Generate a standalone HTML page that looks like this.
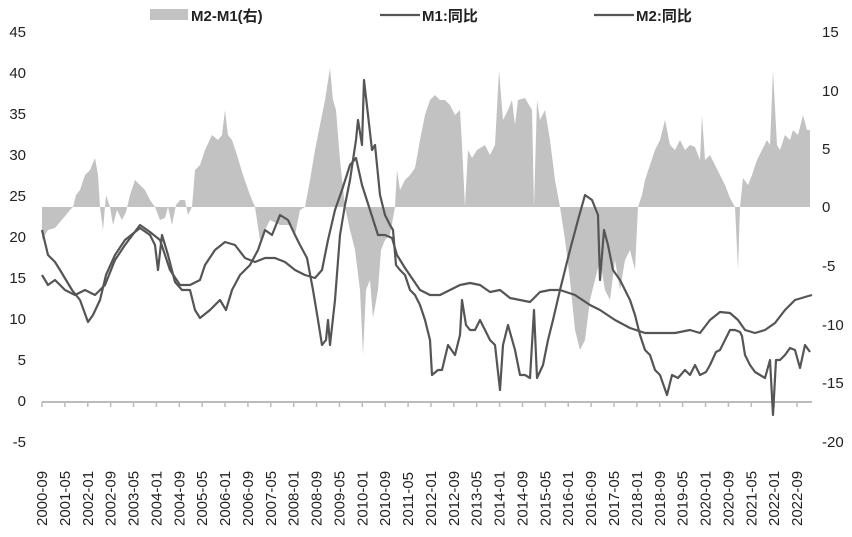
<!DOCTYPE html>
<html><head><meta charset="utf-8"><style>
body{margin:0;background:#fff}
svg text{font-family:"Liberation Sans","Noto Sans CJK SC",sans-serif;fill:#222}
</style></head><body>
<svg width="852" height="532" xmlns="http://www.w3.org/2000/svg">
<polygon fill="#c2c2c2" points="42,207 42,240 48,230 55,228 60,222 66,215 70,210 73,207 76,195 80,190 85,175 90,170 95,158 98,175 100,207 103,230 106,195 110,207 113,225 117,210 122,220 126,212 130,195 135,180 140,185 145,190 150,200 155,207 160,220 165,218 168,207 172,225 176,205 180,200 185,200 188,215 192,207 195,170 200,165 205,150 212,135 218,140 222,135 225,110 228,135 232,140 237,155 243,175 250,195 255,207 260,240 270,220 280,225 290,225 295,235 300,210 305,207 310,180 315,150 320,125 325,100 330,68 333,100 336,110 340,160 345,207 350,230 355,250 360,290 363,355 366,290 370,280 373,318 378,290 381,250 385,240 390,235 395,207 397,170 400,190 405,180 410,175 415,168 420,140 425,115 430,100 435,95 440,100 445,100 450,105 455,115 460,110 462,145 465,207 468,150 472,158 477,150 485,145 490,155 495,145 499,70 503,120 508,110 512,100 515,125 518,100 525,98 532,110 534,207 537,100 540,120 545,110 550,140 555,180 560,207 565,240 570,280 575,330 580,350 585,340 590,300 600,260 605,290 610,300 615,260 620,290 625,260 630,250 635,270 638,207 642,195 645,180 650,165 655,150 660,140 665,120 670,145 675,150 680,140 685,150 690,145 695,147 700,160 702,115 705,160 710,155 715,165 720,175 725,185 730,198 735,207 738,270 740,207 743,178 748,185 752,175 757,160 762,150 767,140 770,145 773,70 777,145 780,150 785,135 790,140 793,130 798,135 803,115 807,130 810,130 810,207"/>
<line x1="42" y1="402" x2="812" y2="402" stroke="#bbb" stroke-width="2"/>
<g stroke="#bbb" stroke-width="1.5" id="ticks"></g>
<polyline fill="none" stroke="#555" stroke-width="2.2" stroke-linejoin="round" points="42,275 48,285 55,280 65,290 75,295 85,290 95,295 105,285 115,260 125,245 140,225 150,232 160,240 170,270 180,285 190,285 200,280 205,265 215,250 225,242 235,245 245,258 255,262 265,258 275,258 285,262 295,270 305,275 315,278 322,270 328,240 335,210 342,190 350,165 356,158 362,185 370,210 378,235 385,235 392,238 397,255 405,268 420,290 430,295 440,295 450,290 460,285 470,283 480,285 490,292 500,290 510,298 520,300 530,302 540,292 550,290 560,290 575,295 590,305 600,310 615,320 630,328 645,333 660,333 675,333 690,330 700,333 710,320 720,312 730,313 738,320 745,330 755,333 765,330 775,323 785,310 795,300 805,297 812,295"/>
<polyline fill="none" stroke="#555" stroke-width="2.2" stroke-linejoin="round" points="42,230 48,255 55,262 60,270 66,280 72,290 80,300 88,322 93,315 100,300 106,275 115,255 125,240 140,228 150,235 155,245 158,270 162,235 168,255 175,282 182,290 190,290 195,310 200,318 210,310 220,300 226,310 232,290 240,275 250,265 258,250 265,230 272,235 280,215 288,220 295,235 300,245 307,258 313,290 318,320 322,345 326,340 328,320 330,345 335,300 340,235 345,205 350,180 356,140 358,120 362,145 364,80 368,115 372,150 375,145 380,195 385,215 390,225 393,230 396,265 400,270 405,275 410,290 415,295 420,305 425,320 430,340 432,375 438,370 442,370 448,345 455,355 460,335 462,300 466,325 470,330 475,330 480,320 490,340 495,345 500,390 503,345 508,325 515,350 520,375 525,375 530,378 534,310 537,378 543,365 548,340 553,320 560,290 570,250 578,220 585,195 592,200 598,215 600,280 604,230 608,245 613,270 620,280 625,290 630,300 635,315 640,335 645,350 650,355 655,370 660,375 667,395 672,375 678,378 685,370 690,375 695,365 700,375 706,372 710,365 716,352 720,350 725,340 730,330 735,330 740,332 742,336 745,355 750,365 755,372 760,375 765,378 770,360 773,415 776,360 780,360 785,355 790,348 795,350 800,368 805,345 810,352"/>
<g font-size="15" text-anchor="end">
<text x="26" y="37">45</text><text x="26" y="78">40</text><text x="26" y="119">35</text><text x="26" y="160">30</text><text x="26" y="201">25</text><text x="26" y="242">20</text><text x="26" y="283">15</text><text x="26" y="324">10</text><text x="26" y="365">5</text><text x="26" y="406">0</text><text x="26" y="447">-5</text>
</g>
<g font-size="15">
<text x="822" y="37">15</text><text x="822" y="96">10</text><text x="822" y="154">5</text><text x="822" y="212">0</text><text x="822" y="271">-5</text><text x="822" y="330">-10</text><text x="822" y="388">-15</text><text x="822" y="447">-20</text>
</g>
<g font-size="15" id="xl"></g>
<rect x="150" y="9" width="38" height="11" fill="#c2c2c2"/>
<text x="191" y="21" font-size="15" font-weight="bold">M2-M1(右)</text>
<line x1="380" y1="15" x2="420" y2="15" stroke="#555" stroke-width="2.2"/>
<text x="422" y="21" font-size="15" font-weight="bold">M1:同比</text>
<line x1="594" y1="15" x2="634" y2="15" stroke="#555" stroke-width="2.2"/>
<text x="636" y="21" font-size="15" font-weight="bold">M2:同比</text>
</svg>
<script>
var xl=document.getElementById('xl'),tk=document.getElementById('ticks'),ns="http://www.w3.org/2000/svg";
for(var i=0;i<34;i++){var m=i*8,x=42+m*2.86,yr=2000+Math.floor((8+m)/12),mo=(8+m)%12+1;
var t=document.createElementNS(ns,'text');t.setAttribute('transform','translate('+(x+5)+',526) rotate(-90)');t.textContent=yr+'-'+(mo<10?'0':'')+mo;xl.appendChild(t);
var l=document.createElementNS(ns,'line');l.setAttribute('x1',x);l.setAttribute('x2',x);l.setAttribute('y1',402);l.setAttribute('y2',407);tk.appendChild(l);}
</script>
</body></html>
